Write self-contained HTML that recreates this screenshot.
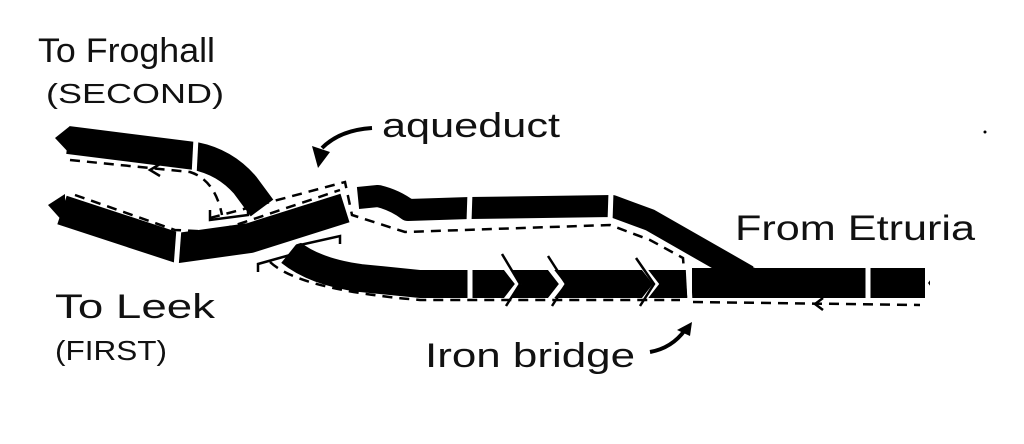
<!DOCTYPE html>
<html><head><meta charset="utf-8"><style>
html,body{margin:0;padding:0;background:#fff;}
svg{display:block;}
text{font-family:"Liberation Sans",sans-serif;fill:#111;}
</style></head><body>
<svg width="1024" height="444" viewBox="0 0 1024 444" xmlns="http://www.w3.org/2000/svg">
<g fill="none" stroke="#000" stroke-linejoin="round">
  <!-- lower middle (under) -->
  <path d="M290,252 Q315,272 360,278 L420,284 L690,284" stroke-width="28"/>
  <!-- Froghall branch -->
  <path d="M68,140 L195,156 Q225,162 245,185 L262,208" stroke-width="28"/>
  <polygon points="55,138 70,126 70,154" fill="#000" stroke="none"/>
  <!-- upper right -->
  <path d="M358,198 L378,196 Q395,200 408,210 L470,208 L612,206 L650,220 L748,276" stroke-width="22"/>
  <!-- right trunk -->
  <path d="M692,283 L930,283" stroke-width="30"/>
  <polygon points="740,262 760,270 760,284 735,284" fill="#000" stroke="none"/>
</g>
<!-- aqueduct white border -->
<path d="M175,248 L250,238 L345,208" stroke="#fff" stroke-width="40" fill="none"/>
<g fill="none" stroke="#000" stroke-linejoin="round">
  <!-- Leek branch -->
  <path d="M62,210 L178,248 L250,238 L345,208" stroke-width="30"/>
  <polygon points="48,205 65,194 65,224" fill="#000" stroke="none"/>
</g>
<!-- notch at right end -->
<polygon points="925,267 940,267 928,283 940,299 925,299" fill="#fff"/>
<!-- gaps -->
<g stroke="#fff" stroke-width="5">
  <line x1="196" y1="138" x2="194" y2="176"/>
  <line x1="179" y1="228" x2="176" y2="268"/>
  <line x1="350" y1="185" x2="356" y2="228"/>
  <line x1="470" y1="192" x2="469" y2="222"/>
  <line x1="611" y1="192" x2="610" y2="222"/>
  <line x1="470" y1="266" x2="470" y2="302"/>
  <line x1="868" y1="264" x2="868" y2="302"/>
  <line x1="688" y1="264" x2="690" y2="302"/>
</g>
<!-- chevrons -->
<g fill="none" stroke="#fff" stroke-width="5">
  <path d="M504,266 L518,284 L504,302"/>
  <path d="M548,266 L562,284 L548,302"/>
  <path d="M642,266 L656,284 L642,302"/>
</g>
<g fill="none" stroke="#000" stroke-width="2.5">
  <path d="M502,254 L520,284 L506,306"/>
  <path d="M548,256 L566,284 L552,306"/>
  <path d="M636,258 L654,284 L640,306"/>
</g>
<!-- dashed lines -->
<g fill="none" stroke="#000" stroke-width="2.5" stroke-dasharray="10,7">
  <path d="M70,160 L190,172 Q215,180 222,215"/>
  <path d="M75,195 L175,230 L215,232 L340,190"/>
  <path d="M210,218 L345,182 L352,215 L405,232 L610,225 L650,240 L683,258 L686,298"/>
  <path d="M270,262 Q300,290 420,300 L680,300"/>
  <path d="M693,302 L920,305"/>
</g>
<g fill="none" stroke="#000" stroke-width="2.5">
  <path d="M160,164 L150,170 L160,176"/>
  <path d="M823,298 L815,304 L823,310"/>
  <path d="M210,210 L210,220 L248,215 L248,205"/>
  <path d="M258,272 L258,264 L290,255"/>
  <path d="M300,245 L340,236 L340,244"/>
</g>
<!-- arrows -->
<path d="M372,128 Q340,130 322,148" fill="none" stroke="#000" stroke-width="4"/>
<polygon points="312,146 330,152 318,168" fill="#000"/>
<path d="M650,352 Q672,348 685,330" fill="none" stroke="#000" stroke-width="4"/>
<polygon points="677,330 692,322 690,336" fill="#000"/>
<circle cx="985" cy="132" r="1.5" fill="#000"/>
<!-- labels -->
<text x="38" y="62" font-size="34" textLength="177" lengthAdjust="spacingAndGlyphs">To Froghall</text>
<text x="46" y="103" font-size="28" textLength="178" lengthAdjust="spacingAndGlyphs">(SECOND)</text>
<text x="382" y="137" font-size="34" textLength="178" lengthAdjust="spacingAndGlyphs">aqueduct</text>
<text x="735" y="240" font-size="35" textLength="240" lengthAdjust="spacingAndGlyphs">From Etruria</text>
<text x="55" y="318" font-size="34" textLength="160" lengthAdjust="spacingAndGlyphs">To Leek</text>
<text x="55" y="360" font-size="28" textLength="112" lengthAdjust="spacingAndGlyphs">(FIRST)</text>
<text x="425" y="367" font-size="34" textLength="210" lengthAdjust="spacingAndGlyphs">Iron bridge</text>
</svg>
</body></html>
